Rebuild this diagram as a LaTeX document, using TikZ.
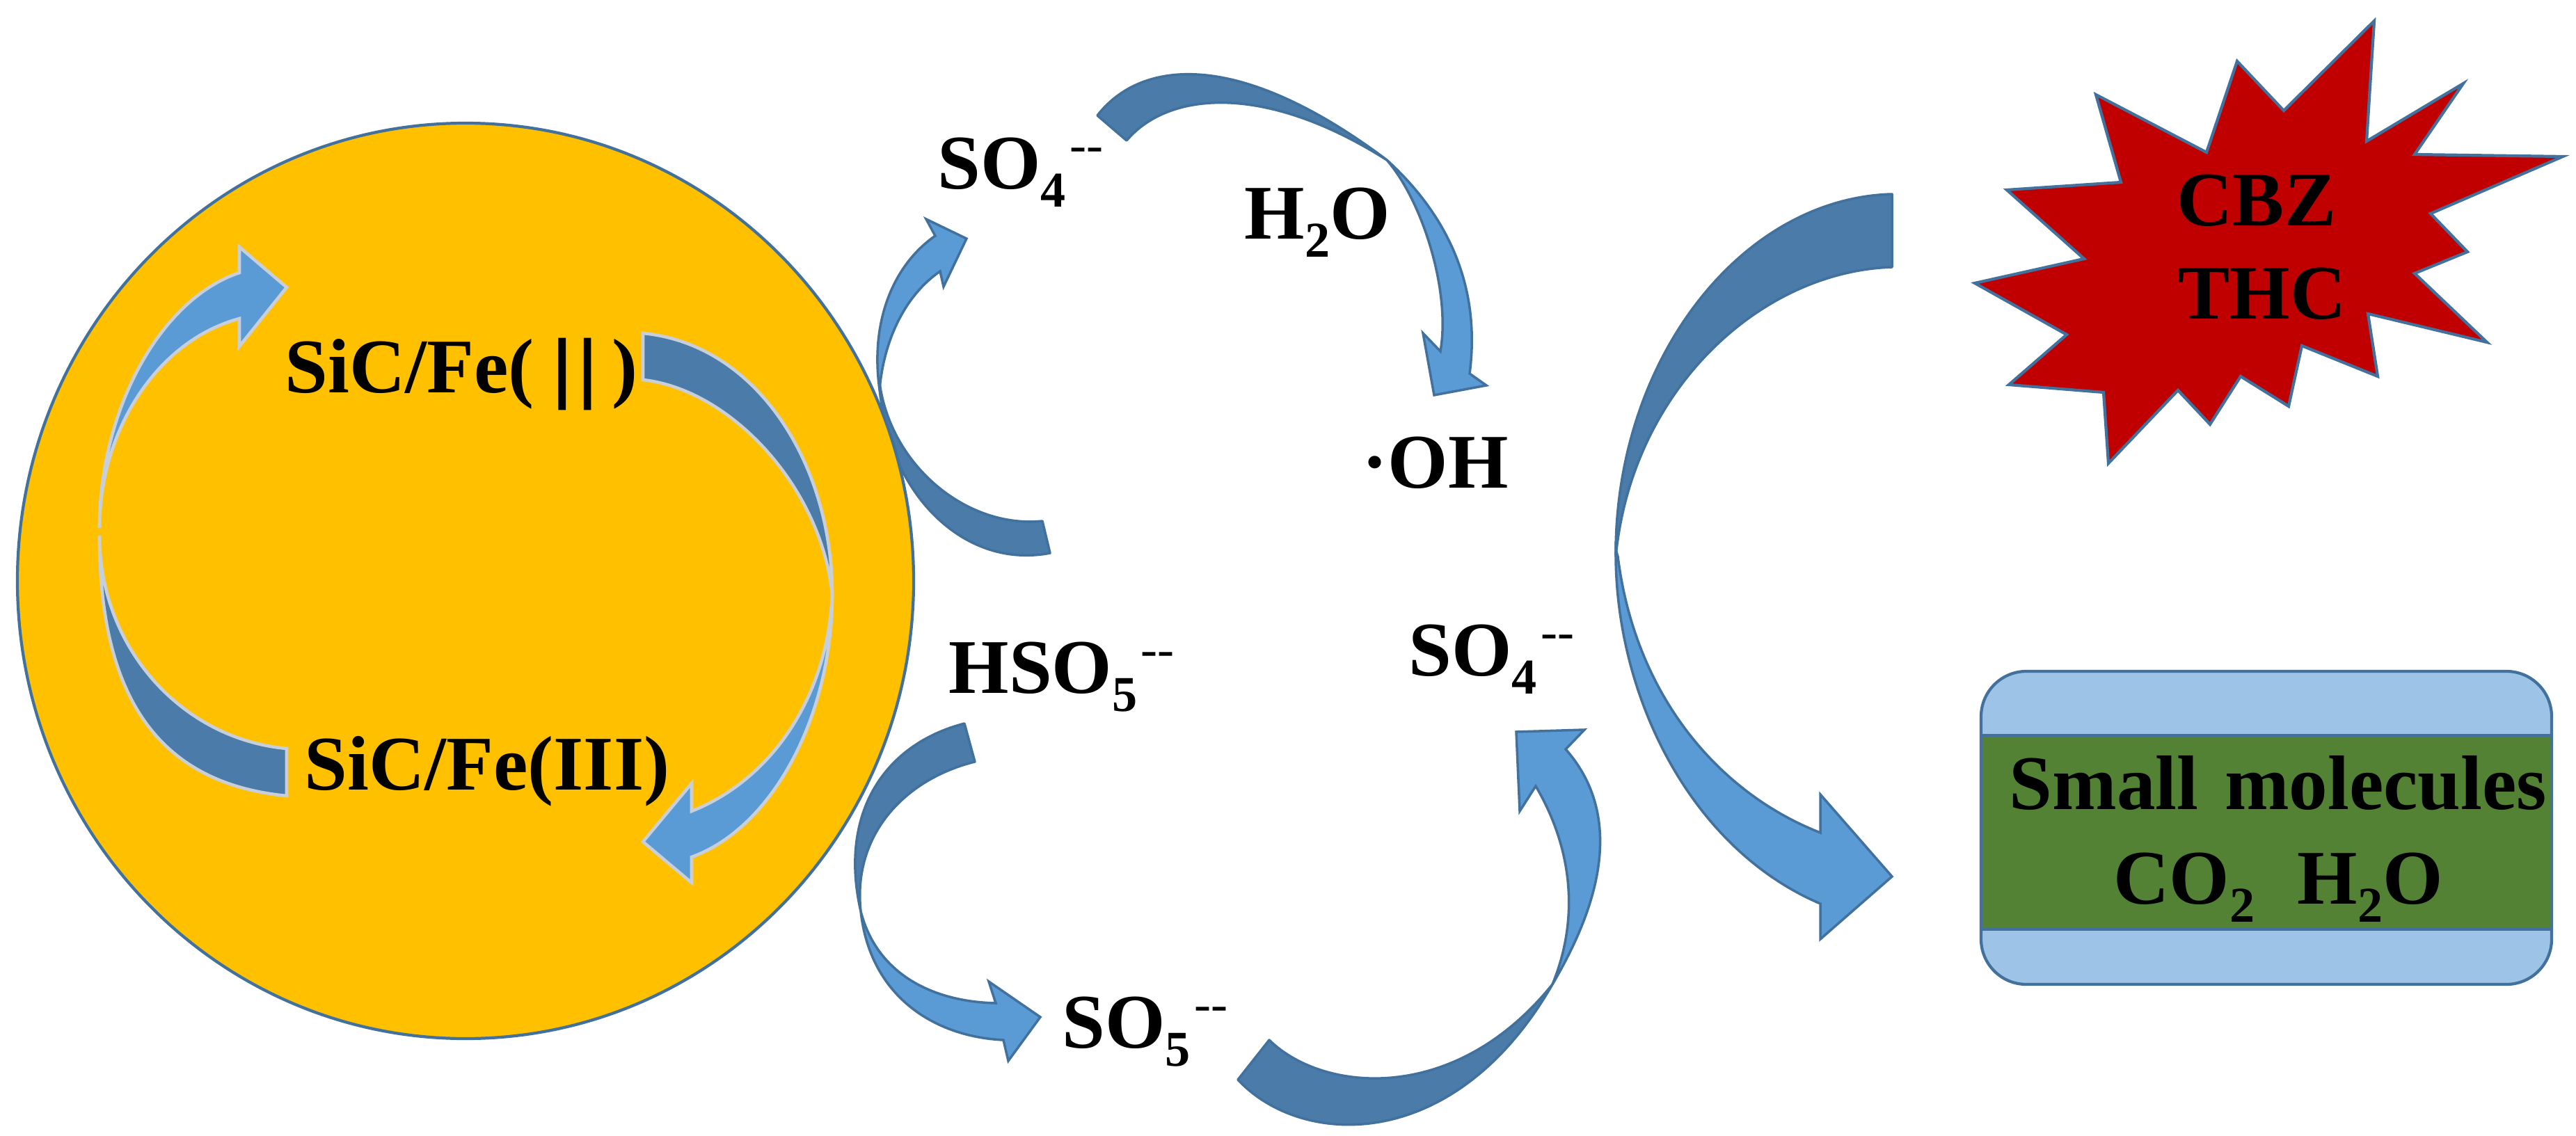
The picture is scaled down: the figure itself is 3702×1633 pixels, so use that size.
\documentclass[tikz,border=0pt]{standalone}
\usepackage{fontspec}
\setmainfont{Liberation Serif}
\definecolor{ArrDark}{HTML}{4A7BA9}
\definecolor{ArrLight}{HTML}{5B9BD5}
\definecolor{Edge}{HTML}{41719C}
\definecolor{InEdge}{HTML}{C8CFD9}
\definecolor{Disc}{HTML}{FFC000}
\definecolor{Burst}{HTML}{C00000}
\definecolor{Band}{HTML}{548235}
\definecolor{Cap}{HTML}{9DC3E6}
\newcommand{\lowtxt}[1]{\raisebox{-.26cm}{\fontsize{20.5}{21}\selectfont #1}}
\newcommand{\hightxt}{\raisebox{.38cm}{\fontsize{20.5}{21}\selectfont\mdseries\kern.05cm{-}{-}}}
\newcommand{\heavybar}{{\addfontfeature{FakeBold=2.5}|}}
\tikzset{
  darkarr/.style={fill=ArrDark,draw=Edge,line width=1pt,line join=round},
  lightarr/.style={fill=ArrLight,draw=Edge,line width=1pt,line join=miter},
  idarkarr/.style={fill=ArrDark,draw=InEdge,line width=1.3pt},
  ilightarr/.style={fill=ArrLight,draw=InEdge,line width=1.3pt},
  txt/.style={font=\fontsize{31.6}{36}\selectfont\bfseries,inner sep=0pt,anchor=base west,text=black},
}
\begin{document}
\begin{tikzpicture}[x=0.01cm,y=-0.01cm]
\useasboundingbox (0,0) rectangle (3702,1633);

% arrow leaving the disc towards SO4
\filldraw[lightarr] (1264,560) .. controls (1250,460) and (1285,380) .. (1344,339)
  -- (1331,315) -- (1389,343) -- (1356,412) -- (1351,390)
  .. controls (1300,425) and (1270,490) .. (1264,560) -- cycle;
\filldraw[darkarr] (1509,795) .. controls (1380,820) and (1270,700) .. (1264,550)
  .. controls (1280,670) and (1390,760) .. (1498,749) -- cycle;

% disc
\filldraw[fill=Disc,draw=Edge,line width=1.2pt] (669,835) ellipse [x radius=644,y radius=658];

% inner cycle
\filldraw[ilightarr] (143,759) .. controls (143,590) and (230,430) .. (344,392)
  -- (344,355) -- (412,413) -- (344,498) -- (344,458)
  .. controls (225,490) and (143,620) .. (143,759) -- cycle;
\filldraw[idarkarr] (412,1144) .. controls (215,1125) and (143,985) .. (143,770)
  .. controls (143,930) and (260,1062) .. (412,1076) -- cycle;
\filldraw[ilightarr] (1196,854) .. controls (1196,1030) and (1110,1190) .. (994,1232)
  -- (994,1269) -- (924,1210) -- (994,1126) -- (994,1166)
  .. controls (1110,1120) and (1190,1000) .. (1196,854) -- cycle;
\filldraw[idarkarr] (924,479) .. controls (1090,495) and (1196,670) .. (1196,854)
  .. controls (1180,700) and (1050,560) .. (924,546) -- cycle;

% SO4 -> OH
\filldraw[lightarr] (1993,230) .. controls (2070,300) and (2130,400) .. (2112,537)
  -- (2136,554) -- (2061,568) -- (2045,479) -- (2070,505)
  .. controls (2085,420) and (2045,290) .. (1993,230) -- cycle;
\filldraw[darkarr] (1577,166) .. controls (1640,85) and (1780,70) .. (1993,230)
  .. controls (1820,120) and (1680,130) .. (1619,202) -- cycle;

% HSO5 -> SO5
\filldraw[lightarr] (1237,1310) .. controls (1250,1430) and (1340,1490) .. (1442,1495)
  -- (1449,1525) -- (1495,1462) -- (1421,1411) -- (1431,1442)
  .. controls (1340,1440) and (1260,1400) .. (1237,1310) -- cycle;
\filldraw[darkarr] (1386,1040) .. controls (1270,1070) and (1205,1170) .. (1237,1310)
  .. controls (1225,1200) and (1300,1120) .. (1401,1095) -- cycle;

% SO5 -> SO4
\filldraw[lightarr] (2231,1415) .. controls (2275,1340) and (2350,1190) .. (2250,1077)
  -- (2277,1049) -- (2179,1052) -- (2184,1166) -- (2207,1130)
  .. controls (2260,1220) and (2270,1320) .. (2231,1415) -- cycle;
\filldraw[darkarr] (1779,1552) .. controls (1870,1650) and (2090,1660) .. (2231,1415)
  .. controls (2090,1590) and (1900,1570) .. (1824,1495) -- cycle;

% large arrow
\filldraw[lightarr] (2322,790) .. controls (2320,1000) and (2430,1220) .. (2616,1299)
  -- (2616,1350) -- (2719,1260) -- (2616,1142) -- (2616,1197)
  .. controls (2470,1140) and (2350,1000) .. (2325,800) -- cycle;
\filldraw[darkarr] (2719,279) .. controls (2500,285) and (2320,520) .. (2322,800)
  .. controls (2345,560) and (2530,390) .. (2719,384) -- cycle;

% burst
\filldraw[fill=Burst,draw=Edge,line width=1.2pt,line join=miter]
  (3412,30) -- (3401,203) -- (3540,120) -- (3470,222) -- (3683,225) -- (3493,307)
  -- (3546,362) -- (3470,393) -- (3574,492) -- (3403,451) -- (3417,541) -- (3308,497)
  -- (3289,584) -- (3220,541) -- (3176,610) -- (3130,561) -- (3030,666) -- (3023,564)
  -- (2887,553) -- (2970,481) -- (2838,407) -- (2995,372) -- (2884,273) -- (3048,262)
  -- (3012,136) -- (3171,219) -- (3215,88) -- (3282,159) -- cycle;

% three-band box
\filldraw[fill=Cap,draw=Edge,line width=1.2pt,rounded corners=0.65cm] (2847,965) rectangle (3667,1415);
\filldraw[fill=Band,draw=Edge,line width=1.2pt] (2847,1057) rectangle (3667,1336);

% labels
\node[txt] (fetwo) at (409,564) {SiC/Fe( \heavybar\kern.12cm\heavybar\ \kern-.05cm)};
\node[txt] (fethree) at (437,1135) {SiC/Fe(III)};
\node[txt] (soa) at (1347,271) {SO\lowtxt{4}\hightxt};
\node[txt] (water) at (1788,343) {H\lowtxt{2}O};
\node[txt] (oh) at (1957,701) {·OH};
\node[txt] (hso) at (1363,996) {HSO\lowtxt{5}\hightxt};
\node[txt] (sob) at (2024,971) {SO\lowtxt{4}\hightxt};
\node[txt] (soc) at (1526,1506) {SO\lowtxt{5}\hightxt};
\node[txt] (cbz) at (3128,324) {CBZ};
\node[txt] (thc) at (3130,458) {THC};
\node[txt] (small) at (2887,1163) {Small\kern.1cm{} molecules};
\node[txt] (co) at (3037,1299) {CO\lowtxt{2}};
\node[txt] (wat) at (3301,1299) {H\lowtxt{2}O};
\end{tikzpicture}
\end{document}
